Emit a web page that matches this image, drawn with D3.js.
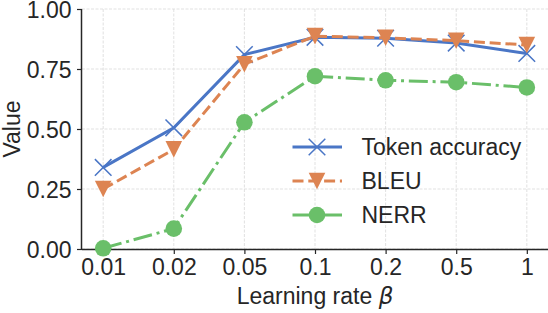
<!DOCTYPE html>
<html><head><meta charset="utf-8">
<script src="https://cdn.jsdelivr.net/npm/d3@7"></script>
<style>
html,body{margin:0;padding:0;background:#fff;}
svg{display:block;}
text{font-family:"Liberation Sans",Arial,sans-serif;fill:#262626;}
</style></head>
<body>
<svg id="chart" width="548" height="313"></svg>
<script>
const categories = ["0.01","0.02","0.05","0.1","0.2","0.5","1"];
const tokenAccuracy = [0.34, 0.505, 0.81, 0.882, 0.878, 0.858, 0.815];
const bleu = [0.25, 0.415, 0.77, 0.887, 0.88, 0.868, 0.85];
const nerr = [0.003, 0.085, 0.528, 0.72, 0.703, 0.695, 0.673];
const yTicks = [0, 0.25, 0.5, 0.75, 1.0];
const seriesNames = ["Token accuracy", "BLEU", "NERR"];

const svg = d3.select("#chart");
const pLeft = 82, pRight = 548, pTop = 9, pBottom = 249;
const fs = 23;

const x = d3.scalePoint().domain(categories).range([pLeft, pRight]).padding(0.3);
const y = d3.scaleLinear().domain([0, 1]).range([pBottom, pTop]);

// grid
const grid = svg.append("g");
grid.selectAll("line.v").data(categories).join("line")
  .attr("x1", d => x(d)).attr("x2", d => x(d)).attr("y1", pTop).attr("y2", pBottom)
  .attr("stroke", "#d9d9d9").attr("stroke-width", 0.8).attr("stroke-dasharray", "3,1.5");
grid.selectAll("line.h").data(yTicks).join("line")
  .attr("x1", pLeft).attr("x2", pRight).attr("y1", d => y(d)).attr("y2", d => y(d))
  .attr("stroke", "#d9d9d9").attr("stroke-width", 0.8).attr("stroke-dasharray", "3,1.5");

// axes
const xAxis = d3.axisBottom(x).tickSize(5).tickPadding(5);
const gx = svg.append("g").attr("transform", `translate(0,${pBottom})`).call(xAxis);
gx.select(".domain").attr("d", `M${pLeft},0.5H${pRight}`).attr("stroke", "#262626").attr("stroke-width", 1.5);
gx.selectAll(".tick line").attr("stroke", "#262626").attr("stroke-width", 1.2);
gx.selectAll(".tick text").attr("font-size", fs).attr("font-family", "Liberation Sans, Arial, sans-serif")
  .attr("fill", "#262626").attr("dy", null).attr("y", 26);

const yAxis = d3.axisLeft(y).tickValues(yTicks).tickFormat(d3.format(".2f")).tickSize(5).tickPadding(5);
const gy = svg.append("g").attr("transform", `translate(${pLeft},0)`).call(yAxis);
gy.select(".domain").attr("d", `M-0.5,${pTop}V${pBottom}`).attr("stroke", "#262626").attr("stroke-width", 1.5);
gy.selectAll(".tick line").attr("stroke", "#262626").attr("stroke-width", 1.2);
gy.selectAll(".tick text").attr("font-size", fs).attr("font-family", "Liberation Sans, Arial, sans-serif")
  .attr("fill", "#262626").attr("dy", "0.36em").attr("x", -10.5);

// labels
svg.append("text").attr("x", (pLeft + pRight) / 2).attr("y", 303.5).attr("text-anchor", "middle")
  .attr("font-size", fs).html('Learning rate <tspan font-style="italic" font-family="DejaVu Sans">β</tspan>');
svg.append("text").attr("transform", `translate(19.5,129) rotate(-90)`).attr("text-anchor", "middle")
  .attr("font-size", fs).text("Value");

const colors = ["#4a76c6", "#dd8452", "#6abf69"];
const dashes = [null, "11,4.8", "19,4.8,3,4.8"];
const dataSets = [tokenAccuracy, bleu, nerr];
const line = d3.line().x((d, i) => x(categories[i])).y(d => y(d));

function drawMarker(g, type, cx, cy, color) {
  if (type === 0) {
    const s = 8.3;
    g.append("path").attr("d", `M${cx - s},${cy - s}L${cx + s},${cy + s}M${cx - s},${cy + s}L${cx + s},${cy - s}`)
      .attr("stroke", color).attr("stroke-width", 1.5).attr("fill", "none");
  } else if (type === 1) {
    const s = 8.3;
    g.append("path").attr("d", `M${cx - s},${cy - s}L${cx + s},${cy - s}L${cx},${cy + s}Z`).attr("fill", color);
  } else {
    g.append("circle").attr("cx", cx).attr("cy", cy).attr("r", 8.3).attr("fill", color);
  }
}

dataSets.forEach((ds, k) => {
  const g = svg.append("g");
  g.append("path").datum(ds).attr("d", line).attr("fill", "none").attr("stroke", colors[k])
    .attr("stroke-width", 3).attr("stroke-dasharray", dashes[k]).attr("stroke-linecap", "butt");
  ds.forEach((v, i) => drawMarker(g, k, x(categories[i]), y(v), colors[k]));
});

// legend
const legRows = [147, 181, 215];
seriesNames.forEach((name, k) => {
  const g = svg.append("g");
  const ly = legRows[k];
  g.append("line").attr("x1", 292.5).attr("x2", 342).attr("y1", ly).attr("y2", ly)
    .attr("stroke", colors[k]).attr("stroke-width", 3).attr("stroke-dasharray", dashes[k]);
  drawMarker(g, k, 317, ly, colors[k]);
  g.append("text").attr("x", 361.5).attr("y", ly).attr("dy", "0.36em").attr("font-size", fs).text(name);
});
</script>
</body></html>
